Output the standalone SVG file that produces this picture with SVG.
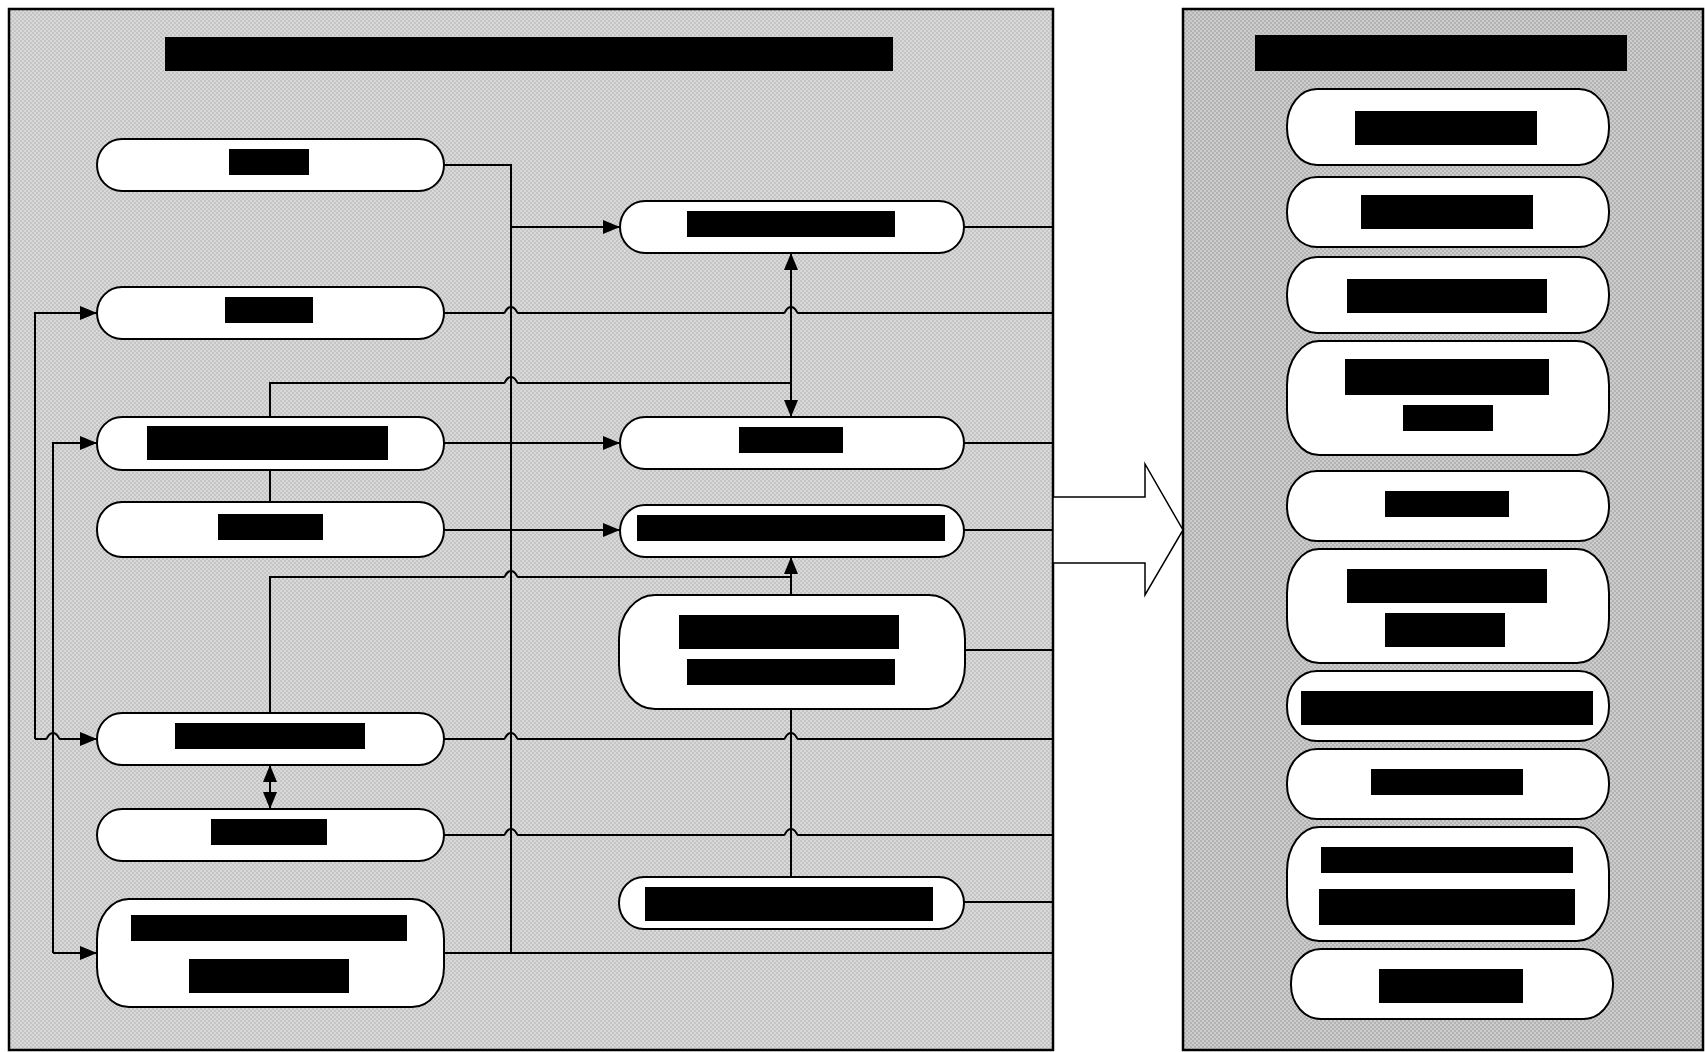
<svg xmlns="http://www.w3.org/2000/svg" width="1705" height="1052" viewBox="0 0 1705 1052">
  <defs>
    <pattern id="chkLight" width="4" height="4" patternUnits="userSpaceOnUse">
      <rect width="4" height="4" fill="#d9d9d9"/>
      <rect width="2" height="2" fill="#c4c4c4"/>
      <rect x="2" y="2" width="2" height="2" fill="#c4c4c4"/>
    </pattern>
    <pattern id="chkDark" width="4" height="4" patternUnits="userSpaceOnUse">
      <rect width="4" height="4" fill="#cdcdcd"/>
      <rect width="2" height="2" fill="#b3b3b3"/>
      <rect x="2" y="2" width="2" height="2" fill="#b3b3b3"/>
    </pattern>
    <marker id="arr" viewBox="0 0 17 14" refX="17" refY="7" markerWidth="17" markerHeight="14" markerUnits="userSpaceOnUse" orient="auto-start-reverse">
      <path d="M0,0 L17,7 L0,14 z" fill="#000"/>
    </marker>
  </defs>
  <style>
    .panel { stroke: #000; stroke-width: 2.5; }
    .node { fill: #fff; stroke: #000; stroke-width: 2; }
    .bar { fill: #000; }
    .wire { fill: none; stroke: #000; stroke-width: 2; }
    .to { marker-end: url(#arr); }
    .both { marker-start: url(#arr); marker-end: url(#arr); }
  </style>

  <!-- containers -->
  <rect id="panel-left" class="panel" x="9" y="9" width="1044" height="1041" fill="url(#chkLight)"/>
  <rect id="panel-right" class="panel" x="1183" y="9" width="520" height="1041" fill="url(#chkDark)"/>
  <rect id="title-left" class="bar" x="165" y="37" width="728" height="34"/>
  <rect id="title-right" class="bar" x="1255" y="35" width="372" height="36"/>

  <!-- block arrow between the panels -->
  <polygon id="transfer-arrow" points="1053,497 1145,497 1145,464 1183,530 1145,595 1145,563 1053,563" fill="#fff" stroke="#000" stroke-width="1.5"/>

  <!-- connectors -->
  <g id="connectors">
    <path class="wire" d="M444,165 H511 V953"/>
    <path class="wire to" d="M511,227 H620"/>
    <path class="wire" d="M964,227 H1053"/>
    <path class="wire" d="M444,313 H504 c1.5,0 2,-6 7,-6 c5,0 5.5,6 7,6 H784 c1.5,0 2,-6 7,-6 c5,0 5.5,6 7,6 H1053"/>
    <path class="wire" d="M270,417 V383 H504 c1.5,0 2,-6 7,-6 c5,0 5.5,6 7,6 H791"/>
    <path class="wire both" d="M791,253 V417"/>
    <path class="wire" d="M270,470 V502"/>
    <path class="wire to" d="M444,443 H620"/>
    <path class="wire" d="M964,443 H1053"/>
    <path class="wire to" d="M444,530 H620"/>
    <path class="wire" d="M964,530 H1053"/>
    <path class="wire to" d="M270,713 V577 H504 c1.5,0 2,-6 7,-6 c5,0 5.5,6 7,6 H791 V557"/>
    <path class="wire" d="M791,595 V577"/>
    <path class="wire" d="M965,650 H1053"/>
    <path class="wire" d="M444,739 H504 c1.5,0 2,-6 7,-6 c5,0 5.5,6 7,6 H784 c1.5,0 2,-6 7,-6 c5,0 5.5,6 7,6 H1053"/>
    <path class="wire both" d="M270,765 V809"/>
    <path class="wire" d="M444,835 H504 c1.5,0 2,-6 7,-6 c5,0 5.5,6 7,6 H784 c1.5,0 2,-6 7,-6 c5,0 5.5,6 7,6 H1053"/>
    <path class="wire" d="M791,877 V709"/>
    <path class="wire" d="M964,902 H1053"/>
    <path class="wire" d="M444,953 H1053"/>
    <path class="wire to" d="M35,739 V313 H97"/>
    <path class="wire to" d="M35,739 H46 c1.5,0 2,-6 7,-6 c5,0 5.5,6 7,6 H97"/>
    <path class="wire to" d="M53,953 V443 H97"/>
    <path class="wire to" d="M53,953 H97"/>
  </g>

  <!-- left column -->
  <g id="node-l1"><rect class="node" x="97" y="139" width="347" height="52" rx="25" ry="26"/><rect class="bar" x="229" y="149" width="80" height="26"/></g>
  <g id="node-l2"><rect class="node" x="97" y="287" width="347" height="52" rx="25" ry="26"/><rect class="bar" x="225" y="297" width="88" height="26"/></g>
  <g id="node-l3"><rect class="node" x="97" y="417" width="347" height="53" rx="25" ry="26"/><rect class="bar" x="147" y="426" width="241" height="34"/></g>
  <g id="node-l4"><rect class="node" x="97" y="502" width="347" height="55" rx="25" ry="27"/><rect class="bar" x="218" y="514" width="105" height="26"/></g>
  <g id="node-l5"><rect class="node" x="97" y="713" width="347" height="52" rx="25" ry="26"/><rect class="bar" x="175" y="723" width="190" height="26"/></g>
  <g id="node-l6"><rect class="node" x="97" y="809" width="347" height="52" rx="25" ry="26"/><rect class="bar" x="211" y="819" width="116" height="26"/></g>
  <g id="node-l7"><rect class="node" x="97" y="899" width="347" height="108" rx="32" ry="40"/><rect class="bar" x="131" y="915" width="276" height="26"/><rect class="bar" x="189" y="959" width="160" height="34"/></g>

  <!-- middle column -->
  <g id="node-m1"><rect class="node" x="620" y="201" width="344" height="52" rx="25" ry="26"/><rect class="bar" x="687" y="211" width="208" height="26"/></g>
  <g id="node-m2"><rect class="node" x="620" y="417" width="344" height="52" rx="25" ry="26"/><rect class="bar" x="739" y="427" width="104" height="26"/></g>
  <g id="node-m3"><rect class="node" x="620" y="505" width="344" height="52" rx="25" ry="26"/><rect class="bar" x="637" y="515" width="308" height="26"/></g>
  <g id="node-m4"><rect class="node" x="619" y="595" width="346" height="114" rx="36" ry="44"/><rect class="bar" x="679" y="615" width="220" height="34"/><rect class="bar" x="687" y="659" width="208" height="26"/></g>
  <g id="node-m5"><rect class="node" x="619" y="877" width="345" height="52" rx="25" ry="26"/><rect class="bar" x="645" y="887" width="288" height="34"/></g>

  <!-- right panel list -->
  <g id="node-r1"><rect class="node" x="1287" y="89" width="322" height="76" rx="30" ry="37"/><rect class="bar" x="1355" y="111" width="182" height="34"/></g>
  <g id="node-r2"><rect class="node" x="1287" y="177" width="322" height="70" rx="30" ry="34"/><rect class="bar" x="1361" y="195" width="172" height="34"/></g>
  <g id="node-r3"><rect class="node" x="1287" y="257" width="322" height="76" rx="30" ry="37"/><rect class="bar" x="1347" y="279" width="200" height="34"/></g>
  <g id="node-r4"><rect class="node" x="1287" y="341" width="322" height="114" rx="32" ry="44"/><rect class="bar" x="1345" y="359" width="204" height="36"/><rect class="bar" x="1403" y="405" width="90" height="26"/></g>
  <g id="node-r5"><rect class="node" x="1287" y="471" width="322" height="70" rx="30" ry="34"/><rect class="bar" x="1385" y="491" width="124" height="26"/></g>
  <g id="node-r6"><rect class="node" x="1287" y="549" width="322" height="114" rx="32" ry="44"/><rect class="bar" x="1347" y="569" width="200" height="34"/><rect class="bar" x="1385" y="613" width="120" height="34"/></g>
  <g id="node-r7"><rect class="node" x="1287" y="671" width="322" height="70" rx="30" ry="34"/><rect class="bar" x="1301" y="691" width="292" height="34"/></g>
  <g id="node-r8"><rect class="node" x="1287" y="749" width="322" height="70" rx="30" ry="34"/><rect class="bar" x="1371" y="769" width="152" height="26"/></g>
  <g id="node-r9"><rect class="node" x="1287" y="827" width="322" height="114" rx="32" ry="44"/><rect class="bar" x="1321" y="847" width="252" height="26"/><rect class="bar" x="1319" y="889" width="256" height="36"/></g>
  <g id="node-r10"><rect class="node" x="1291" y="949" width="322" height="70" rx="30" ry="34"/><rect class="bar" x="1379" y="969" width="144" height="34"/></g>
</svg>
